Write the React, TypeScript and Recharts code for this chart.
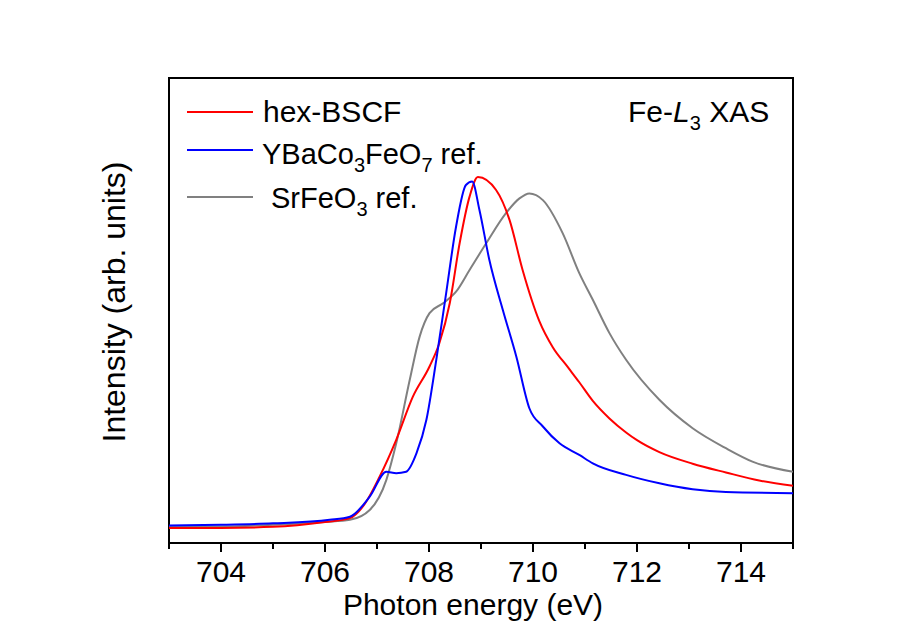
import { Line, LineChart, ReferenceArea, XAxis, YAxis } from "recharts";

// photon energy (eV) and normalized intensity
const hexEnergy = [703, 704, 705, 706, 706.48, 706.73, 707.05, 707.37, 707.69, 708.01, 708.2, 708.4, 708.59, 708.78, 708.94, 709.29, 709.55, 709.8, 710.12, 710.38, 710.67, 710.89, 711.15, 711.47, 711.79, 712.0, 712.43, 713.07, 713.71, 714.35, 715];
const hexIntensity = [0.0, 0.0, 0.003, 0.017, 0.028, 0.061, 0.146, 0.251, 0.374, 0.46, 0.527, 0.641, 0.812, 0.944, 1.0, 0.963, 0.877, 0.735, 0.59, 0.515, 0.458, 0.415, 0.362, 0.312, 0.272, 0.25, 0.216, 0.183, 0.158, 0.135, 0.12];

const ybcEnergy = [703, 704, 705, 706.09, 706.48, 706.86, 707.18, 707.37, 707.56, 707.76, 707.95, 708.14, 708.33, 708.52, 708.71, 708.83, 708.97, 709.16, 709.42, 709.68, 709.93, 710.19, 710.51, 710.89, 711.15, 711.79, 712.43, 713.07, 713.71, 715];
const ybcIntensity = [0.007, 0.009, 0.013, 0.023, 0.032, 0.089, 0.16, 0.156, 0.16, 0.213, 0.308, 0.479, 0.669, 0.858, 0.977, 0.987, 0.906, 0.764, 0.621, 0.488, 0.341, 0.289, 0.241, 0.208, 0.184, 0.151, 0.127, 0.11, 0.102, 0.099];

const sfoEnergy = [703, 704, 705, 706, 706.48, 706.86, 707.18, 707.37, 707.63, 707.82, 708.01, 708.27, 708.52, 708.78, 709.1, 709.48, 709.74, 709.93, 710.19, 710.57, 710.89, 711.15, 711.47, 711.79, 712.43, 713.07, 713.71, 714.22, 715];
const sfoIntensity = [0.003, 0.004, 0.009, 0.017, 0.023, 0.051, 0.137, 0.241, 0.422, 0.545, 0.612, 0.64, 0.673, 0.735, 0.811, 0.897, 0.939, 0.953, 0.934, 0.84, 0.726, 0.65, 0.555, 0.479, 0.365, 0.284, 0.227, 0.189, 0.16];

const xTicks = [703, 704, 705, 706, 707, 708, 709, 710, 711, 712, 713, 714, 715];
const xDomain: [number, number] = [703, 715];
const yDomain: [number, number] = [-0.043, 1.282];

const toRows = (xs: number[], ys: number[]) =>
  xs.map((energy, i) => ({ energy, intensity: ys[i] }));

const hexData = toRows(hexEnergy, hexIntensity);
const ybcData = toRows(ybcEnergy, ybcIntensity);
const sfoData = toRows(sfoEnergy, sfoIntensity);

const FONT = "'Liberation Sans', Arial, sans-serif";

function EnergyTick(props: any) {
  const { x, y, payload } = props;
  const major = payload.value % 2 === 0;
  return (
    <g>
      <line x1={x} x2={x} y1={y} y2={y + (major ? 9 : 6)} stroke="#000" strokeWidth={2} />
      {major && payload.value > 703 && payload.value < 715 && (
        <text x={x} y={y + 39} textAnchor="middle" fontSize={30} fontFamily={FONT} fill="#000">
          {payload.value}
        </text>
      )}
    </g>
  );
}

export default function App() {
  return (
    <div style={{ position: "absolute", left: 0, top: 0, width: 905, height: 640, background: "#fff" }}>
      <LineChart width={905} height={640} margin={{ top: 78, right: 112, bottom: 37, left: 169 }}>
        <XAxis
          dataKey="energy"
          type="number"
          domain={xDomain}
          ticks={xTicks}
          interval={0}
          allowDataOverflow
          height={60}
          axisLine={{ stroke: "#000", strokeWidth: 2 }}
          tickLine={false}
          tickSize={0}
          tickMargin={0}
          tick={<EnergyTick />}
        />
        <YAxis type="number" domain={yDomain} allowDataOverflow width={0} hide />
        <ReferenceArea
          x1={xDomain[0]}
          x2={xDomain[1]}
          y1={yDomain[0]}
          y2={yDomain[1]}
          fill="none"
          fillOpacity={0}
          stroke="#000"
          strokeWidth={2}
          ifOverflow="visible"
        />
        <Line data={sfoData} dataKey="intensity" type="monotone" stroke="#808080" strokeWidth={2} dot={false} isAnimationActive={false} />
        <Line data={hexData} dataKey="intensity" type="monotone" stroke="#ff0000" strokeWidth={2} dot={false} isAnimationActive={false} />
        <Line data={ybcData} dataKey="intensity" type="monotone" stroke="#0000ff" strokeWidth={2} dot={false} isAnimationActive={false} />
      </LineChart>
      <svg width={905} height={640} style={{ position: "absolute", left: 0, top: 0, pointerEvents: "none" }} fontFamily={FONT} fill="#000">
        <text x={473} y={615} fontSize={30} textAnchor="middle">Photon energy (eV)</text>
        <text x={0} y={0} fontSize={32} textAnchor="middle" transform="translate(125 302) rotate(-90)">
          Intensity (arb. units)
        </text>
        <line x1={187} x2={253} y1={112} y2={112} stroke="#ff0000" strokeWidth={2} />
        <text x={263} y={122} fontSize={30}>hex-BSCF</text>
        <line x1={187} x2={253} y1={150} y2={150} stroke="#0000ff" strokeWidth={2} />
        <text x={262} y={164} fontSize={29}>
          YBaCo<tspan fontSize={20} dy={8}>3</tspan>
          <tspan dy={-8}>FeO</tspan>
          <tspan fontSize={20} dy={8}>7</tspan>
          <tspan dy={-8}> ref.</tspan>
        </text>
        <line x1={187} x2={253} y1={197} y2={197} stroke="#808080" strokeWidth={2} />
        <text x={271} y={208} fontSize={29}>
          SrFeO<tspan fontSize={20} dy={8}>3</tspan>
          <tspan dy={-8}> ref.</tspan>
        </text>
        <text x={628} y={122} fontSize={30}>
          Fe-<tspan fontStyle="italic">L</tspan>
          <tspan fontSize={20} dy={8}>3</tspan>
          <tspan dy={-8}> XAS</tspan>
        </text>
      </svg>
    </div>
  );
}
